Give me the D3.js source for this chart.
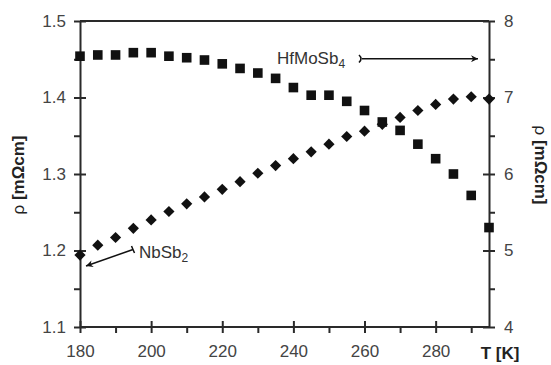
<!DOCTYPE html>
<html><head><meta charset="utf-8">
<script src="https://cdn.jsdelivr.net/npm/d3@7"></script>
<style>body{margin:0;background:#fff}text{font-family:"Liberation Sans",Arial,sans-serif}</style>
</head><body>
<svg id="c" width="551" height="365"></svg>
<script>
const temps = [180,185,190,195,200,205,210,215,220,225,230,235,240,245,250,255,260,265,270,275,280,285,290,295];
const hfmosb4 = [7.54,7.556,7.556,7.586,7.586,7.54,7.52,7.49,7.44,7.38,7.32,7.25,7.13,7.03,7.03,6.95,6.83,6.68,6.57,6.39,6.20,6.00,5.72,5.30];
const nbsb2 = [1.194,1.207,1.217,1.229,1.240,1.251,1.261,1.270,1.280,1.290,1.301,1.311,1.320,1.329,1.339,1.349,1.356,1.365,1.374,1.383,1.391,1.398,1.401,1.398];
const xTicks = [180,200,220,240,260,280];
const yLeftTicks = [1.1,1.2,1.3,1.4,1.5];
const yRightTicks = [4,5,6,7,8];

const svg = d3.select("#c");
const L=80,R=489,T=21,B=327;
const x = d3.scaleLinear().domain([180,295]).range([L,R]);
const yl = d3.scaleLinear().domain([1.1,1.5]).range([B,T]);
const yr = d3.scaleLinear().domain([4,8]).range([B,T]);
const col="#2a2a2a", tcol="#444";

svg.append("line").attr("x1",L).attr("x2",R).attr("y1",T).attr("y2",T).attr("stroke",col).attr("stroke-width",2);

function styleAxis(g){g.select(".domain").attr("stroke",col).attr("stroke-width",2);
 g.selectAll(".tick line").attr("stroke",col).attr("stroke-width",2);
 g.selectAll("text").attr("fill",tcol).attr("font-size",17).style("font-family","Liberation Sans, Arial, sans-serif");}

const gbm = svg.append("g").attr("transform",`translate(0,${B})`).call(d3.axisBottom(x).tickValues(d3.range(190,300,20)).tickSize(6).tickSizeOuter(0).tickFormat(""));
styleAxis(gbm); gbm.select(".domain").remove();
const gb = svg.append("g").attr("transform",`translate(0,${B})`).call(d3.axisBottom(x).tickValues(xTicks).tickSize(6).tickSizeOuter(0).tickPadding(12));
styleAxis(gb); gb.selectAll(".tick line").attr("y1",-6);
gb.select(".domain").attr("d",`M${L},0H${R}`);

const glm = svg.append("g").attr("transform",`translate(${L},0)`).call(d3.axisLeft(yl).tickValues([1.15,1.25,1.35,1.45]).tickSize(6).tickFormat(""));
styleAxis(glm); glm.select(".domain").remove();
const gl = svg.append("g").attr("transform",`translate(${L},0)`).call(d3.axisLeft(yl).tickValues(yLeftTicks).tickSize(6).tickSizeOuter(0).tickPadding(8).tickFormat(d3.format(".1f")));
styleAxis(gl); gl.selectAll(".tick line").attr("x1",6);

const grm = svg.append("g").attr("transform",`translate(${R},0)`).call(d3.axisRight(yr).tickValues([4.5,5.5,6.5,7.5]).tickSize(6).tickFormat(""));
styleAxis(grm); grm.select(".domain").remove();
const gr = svg.append("g").attr("transform",`translate(${R},0)`).call(d3.axisRight(yr).tickValues(yRightTicks).tickSize(6).tickSizeOuter(0).tickPadding(9).tickFormat(d3.format("d")));
styleAxis(gr); gr.selectAll(".tick line").attr("x1",-6);

svg.append("g").selectAll("rect").data(temps).join("rect")
 .attr("x",(d)=>x(d)-4.8).attr("y",(d,i)=>yr(hfmosb4[i])-4.8).attr("width",9.6).attr("height",9.6).attr("fill","#111");
svg.append("g").selectAll("path").data(temps).join("path")
 .attr("transform",(d,i)=>`translate(${x(d)},${yl(nbsb2[i])})`)
 .attr("d","M0,-5.6L5.6,0L0,5.6L-5.6,0Z").attr("fill","#111");

const defs=svg.append("defs");
defs.append("marker").attr("id","ah").attr("viewBox","0 0 10 10").attr("refX",10).attr("refY",5)
 .attr("markerWidth",9).attr("markerHeight",7).attr("markerUnits","userSpaceOnUse").attr("orient","auto")
 .append("path").attr("d","M0,0L10,5L0,10L3,5Z").attr("fill","#111");
svg.append("line").attr("x1",362).attr("x2",478).attr("y1",58.7).attr("y2",58.7)
 .attr("stroke","#111").attr("stroke-width",1.5).attr("marker-end","url(#ah)");
svg.append("path").attr("d","M359,55 Q363,58.7 359,62.5").attr("stroke","#111").attr("stroke-width",1.6).attr("fill","none");
svg.append("line").attr("x1",133).attr("y1",249.5).attr("x2",86).attr("y2",266)
 .attr("stroke","#111").attr("stroke-width",1.5).attr("marker-end","url(#ah)");
svg.append("line").attr("x1",131.5).attr("y1",246).attr("x2",134.5).attr("y2",253).attr("stroke","#111").attr("stroke-width",1.5);

const hf = svg.append("text").attr("x",277).attr("y",64).attr("font-size",17).attr("fill","#333");
hf.append("tspan").text("HfMoSb");
hf.append("tspan").attr("font-size",12).attr("dy",4).text("4");
const nb = svg.append("text").attr("x",139).attr("y",258).attr("font-size",17).attr("fill","#333");
nb.append("tspan").text("NbSb");
nb.append("tspan").attr("font-size",12).attr("dy",4).text("2");

svg.append("text").attr("x",500).attr("y",359).attr("text-anchor","middle").attr("font-size",17).attr("font-weight","bold").attr("fill","#222").text("T [K]");
const lt = svg.append("text").attr("transform","translate(24,175) rotate(-90)").attr("text-anchor","middle").attr("font-size",17).attr("fill","#222");
lt.append("tspan").text("ρ ");
lt.append("tspan").attr("font-weight","bold").text("[mΩcm]");
const rt = svg.append("text").attr("transform","translate(535,165) rotate(90)").attr("text-anchor","middle").attr("font-size",17).attr("fill","#222");
rt.append("tspan").text("ρ ");
rt.append("tspan").attr("font-weight","bold").text("[mΩcm]");
</script>
</body></html>
